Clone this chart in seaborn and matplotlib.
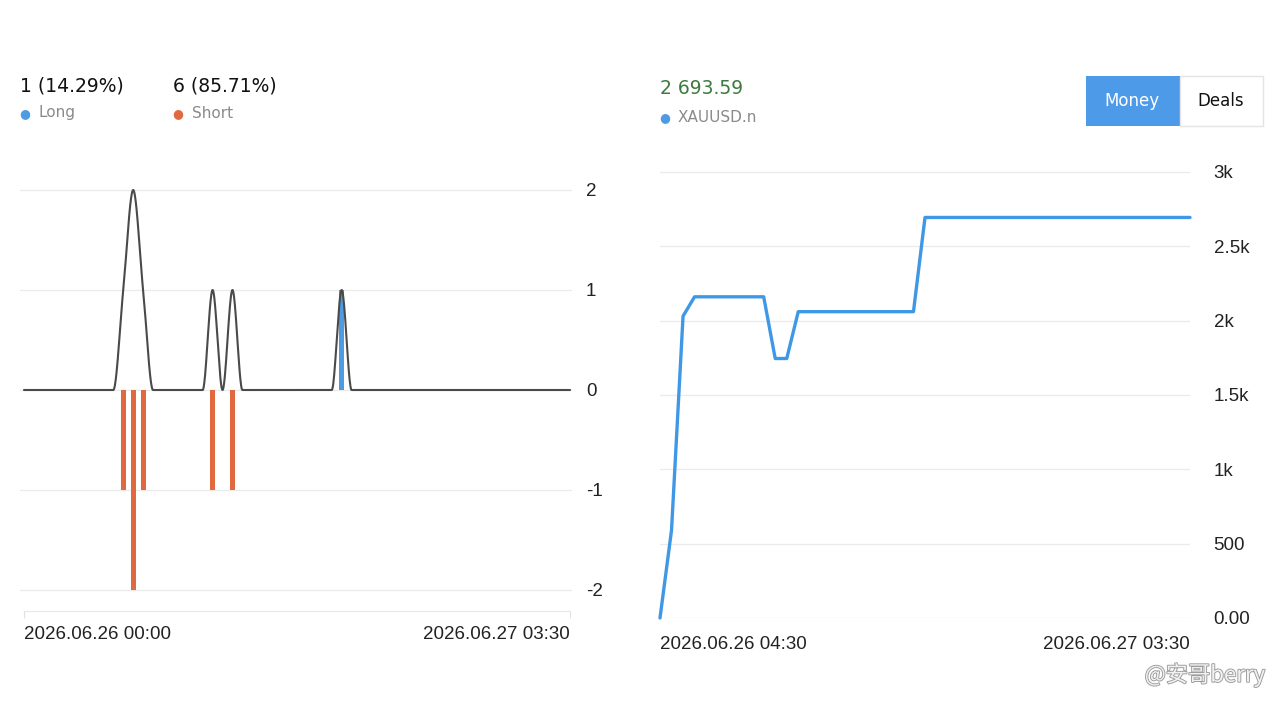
import numpy as np
import pandas as pd
import matplotlib
matplotlib.use("Agg")
import matplotlib.pyplot as plt
import seaborn as sns
from matplotlib.patches import Rectangle
import matplotlib.patheffects as pe

# ---------------- data ----------------
left_start = "2026.06.26 00:00"
left_end = "2026.06.27 03:30"
right_start = "2026.06.26 04:30"
right_end = "2026.06.27 03:30"

short_times = ["2026.06.26 05:00", "2026.06.26 05:30", "2026.06.26 06:00",
               "2026.06.26 09:30", "2026.06.26 10:30"]
short_counts = [-1, -2, -1, -1, -1]
long_times = ["2026.06.26 16:00"]
long_counts = [1]

balance_times = ["2026.06.26 04:30", "2026.06.26 05:00", "2026.06.26 05:30",
                 "2026.06.26 06:00", "2026.06.26 09:00", "2026.06.26 09:30",
                 "2026.06.26 10:00", "2026.06.26 10:30", "2026.06.26 15:30",
                 "2026.06.26 16:00", "2026.06.27 03:30"]
balance_values = [0, 590, 2030, 2160, 2160, 1745, 1745, 2060, 2060, 2693.59, 2693.59]

balance_ticks = [0, 500, 1000, 1500, 2000, 2500, 3000]
balance_tick_labels = ["0.00", "500", "1k", "1.5k", "2k", "2.5k", "3k"]
count_ticks = [-2, -1, 0, 1, 2]
count_tick_labels = ["-2", "-1", "0", "1", "2"]
symbol = "XAUUSD.n"
final_balance_label = "2 693.59"

FMT = "%Y.%m.%d %H:%M"


def hours_since(times, start):
    t = pd.to_datetime(pd.Series(times), format=FMT)
    t0 = pd.to_datetime(start, format=FMT)
    return ((t - t0) / pd.Timedelta(hours=1)).to_numpy(dtype=float)


def pchip(x, y, xs):
    x = np.asarray(x, float); y = np.asarray(y, float)
    h = np.diff(x); d = np.diff(y) / h
    m = np.zeros_like(y)
    for k in range(1, len(x) - 1):
        if d[k - 1] * d[k] > 0:
            w1 = 2 * h[k] + h[k - 1]; w2 = h[k] + 2 * h[k - 1]
            m[k] = (w1 + w2) / (w1 / d[k - 1] + w2 / d[k])
    idx = np.clip(np.searchsorted(x, xs) - 1, 0, len(x) - 2)
    t = (xs - x[idx]) / h[idx]
    h00 = 2 * t**3 - 3 * t**2 + 1
    h10 = t**3 - 2 * t**2 + t
    h01 = -2 * t**3 + 3 * t**2
    h11 = t**3 - t**2
    return h00 * y[idx] + h10 * h[idx] * m[idx] + h01 * y[idx + 1] + h11 * h[idx] * m[idx + 1]


# ---------------- style ----------------
sns.set_style("white")
plt.rcParams["font.family"] = ["DejaVu Sans"]
TICK_FONT = ["Liberation Sans", "DejaVu Sans"]

W, H = 1280, 717
fig = plt.figure(figsize=(W / 100, H / 100), dpi=100)
fig.patch.set_facecolor("white")


def fx(px):
    return px / W


def fy(py):
    return 1 - py / H


BLUE = "#4f9be2"
ORANGE = "#e0693f"
GRID = "#ebebeb"
TXT = "#222222"

# ---------------- left chart ----------------
ax1 = fig.add_axes([fx(20), fy(611), 552 / W, (611 - 170) / H])
left_total = hours_since([left_end], left_start)[0]
sh = hours_since(short_times, left_start)
lh = hours_since(long_times, left_start)

# deals per half-hour (total count), smoothed
grid = np.arange(0, left_total + 0.001, 0.5)
tot = np.zeros_like(grid)
for hh, c in zip(np.concatenate([sh, lh]), np.concatenate([short_counts, long_counts])):
    tot[np.argmin(np.abs(grid - hh))] += abs(c)
xs = np.linspace(0, left_total, 2000)
ys = pchip(grid, tot, xs)

ax1.bar(sh, short_counts, width=0.26, color=ORANGE, zorder=2, linewidth=0)
ax1.bar(lh, long_counts, width=0.26, color=BLUE, zorder=2, linewidth=0)
sns.lineplot(x=xs, y=ys, ax=ax1, color="#4a4a4a", linewidth=1.5, zorder=3)

ax1.set_xlim(-0.2, left_total + 0.1)
ax1.set_ylim(-2.21, 2.2)
ax1.set_yticks(count_ticks)
ax1.set_yticklabels(count_tick_labels)
ax1.yaxis.tick_right()
ax1.grid(axis="y", color=GRID, linewidth=1)
ax1.grid(axis="x", visible=False)
for s in ["top", "left", "right"]:
    ax1.spines[s].set_visible(False)
ax1.spines["bottom"].set_color("#e8e8e8")
ax1.spines["bottom"].set_bounds(0, left_total)
ax1.set_xticks([0, left_total])
ax1.set_xticklabels([left_start, left_end])
ax1.tick_params(axis="x", bottom=True, length=5, color="#e0e0e0", pad=6,
                labelsize=13.5, labelcolor=TXT)
ax1.tick_params(axis="y", length=0, pad=10, labelsize=13.5, labelcolor=TXT)
xl = ax1.get_xticklabels()
xl[0].set_ha("left"); xl[1].set_ha("right")
for lab in ax1.get_xticklabels() + ax1.get_yticklabels():
    lab.set_family(TICK_FONT)
ax1.set_xlabel(""); ax1.set_ylabel("")

# ---------------- right chart ----------------
ax2 = fig.add_axes([fx(660), fy(618), 530 / W, (618 - 160) / H])
right_total = hours_since([right_end], right_start)[0]
bh = hours_since(balance_times, right_start)
sns.lineplot(x=bh, y=balance_values, ax=ax2, color="#3f98e6", linewidth=2.4,
             zorder=3, clip_on=False)
ax2.set_xlim(0, right_total)
ax2.set_ylim(0, 3080)
ax2.set_yticks(balance_ticks)
ax2.set_yticklabels(balance_tick_labels)
ax2.yaxis.tick_right()
ax2.grid(axis="y", color=GRID, linewidth=1)
ax2.grid(axis="x", visible=False)
for s in ["top", "left", "right", "bottom"]:
    ax2.spines[s].set_visible(False)
ax2.set_xticks([0, right_total])
ax2.set_xticklabels([right_start, right_end])
ax2.tick_params(axis="x", length=0, pad=13, labelsize=13.5, labelcolor=TXT)
ax2.tick_params(axis="y", length=0, pad=17, labelsize=13.5, labelcolor=TXT)
xl = ax2.get_xticklabels()
xl[0].set_ha("left"); xl[1].set_ha("right")
for lab in ax2.get_xticklabels() + ax2.get_yticklabels():
    lab.set_family(TICK_FONT)
ax2.set_xlabel(""); ax2.set_ylabel("")

# ---------------- header texts ----------------
n_long = sum(abs(c) for c in long_counts)
n_short = sum(abs(c) for c in short_counts)
n_all = n_long + n_short
fig.text(fx(20), fy(86), f"{n_long} ({n_long / n_all * 100:.2f}%)", fontsize=13.5,
         color="#111111", va="center", ha="left")
fig.text(fx(173), fy(86), f"{n_short} ({n_short / n_all * 100:.2f}%)", fontsize=13.5,
         color="#111111", va="center", ha="left")
fig.text(fx(19), fy(114), "●", fontsize=9, color=BLUE, va="center", ha="left")
fig.text(fx(39), fy(113), "Long", fontsize=11, color="#8a8a8a", va="center", ha="left")
fig.text(fx(172), fy(114), "●", fontsize=9, color=ORANGE, va="center", ha="left")
fig.text(fx(192), fy(113), "Short", fontsize=11, color="#8a8a8a", va="center", ha="left")

fig.text(fx(660), fy(88), final_balance_label, fontsize=13.5, color="#3d7a3d",
         va="center", ha="left")
fig.text(fx(659), fy(118), "●", fontsize=9, color=BLUE, va="center", ha="left")
fig.text(fx(678), fy(117), symbol, fontsize=11, color="#8a8a8a", va="center", ha="left")

# buttons
fig.add_artist(Rectangle((fx(1086), fy(126)), (1180 - 1086) / W, 50 / H,
                         transform=fig.transFigure, facecolor="#4d9be8", edgecolor="none"))
fig.add_artist(Rectangle((fx(1180), fy(126)), (1263 - 1180) / W, 50 / H,
                         transform=fig.transFigure, facecolor="white", edgecolor="#e4e4e4",
                         linewidth=1))
fig.text(fx(1132), fy(101), "Money", fontsize=12, color="white", va="center", ha="center")
fig.text(fx(1221), fy(101), "Deals", fontsize=12, color="#111111", va="center", ha="center")

# watermark
fig.text(fx(1265), fy(675), "@安哥berry", fontsize=16, color="#f2f2f2", va="center",
         ha="right", family=["Noto Sans CJK SC", "DejaVu Sans"],
         path_effects=[pe.withStroke(linewidth=1.3, foreground="#9a9a9a")])

fig.savefig("out.png", dpi=100, facecolor="white")
